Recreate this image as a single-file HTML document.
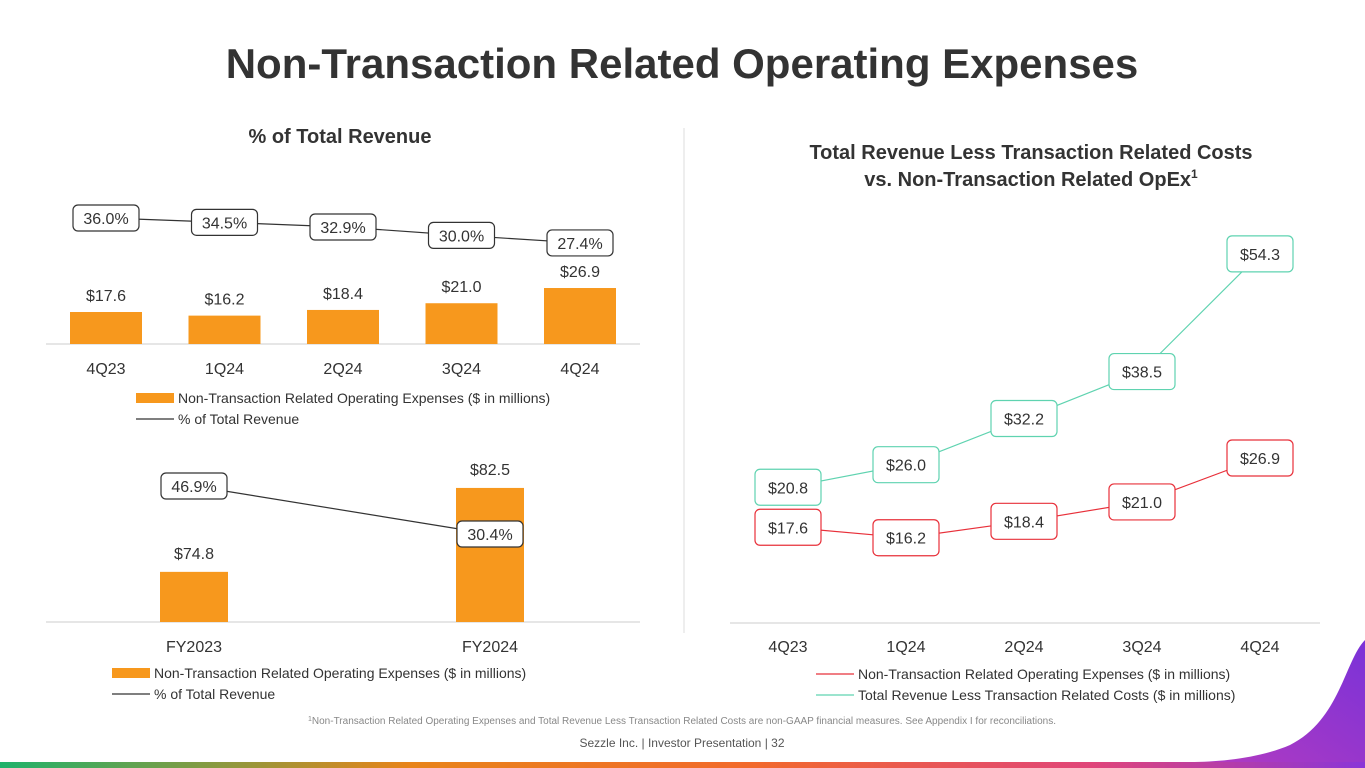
<!DOCTYPE html>
<html><head><meta charset="utf-8">
<style>
html,body{margin:0;padding:0;background:#fff;}
body{width:1365px;height:768px;position:relative;overflow:hidden;font-family:"Liberation Sans",sans-serif;color:#333;}
svg{position:absolute;left:0;top:0;}
</style></head>
<body>
<svg id="s" width="1365" height="768" viewBox="0 0 1365 768">
<defs>
<linearGradient id="bg" x1="0" x2="1" y1="0" y2="0">
<stop offset="0" stop-color="#1fb26b"/><stop offset="0.3" stop-color="#e8841a"/><stop offset="0.55" stop-color="#f26a2c"/><stop offset="0.8" stop-color="#e0457a"/><stop offset="1" stop-color="#8a35d8"/>
</linearGradient>
<linearGradient id="pg" x1="0" x2="1" y1="1" y2="0">
<stop offset="0" stop-color="#b43bc0"/><stop offset="1" stop-color="#7a32d8"/>
</linearGradient>
</defs>
<rect x="0" y="762" width="1365" height="6" fill="url(#bg)"/>
<path d="M1365 640 C1345 660 1340 720 1290 745 C1260 758 1220 762 1190 762 L1365 762 Z" fill="url(#pg)"/>
<text x="682" y="78" text-anchor="middle" font-size="42" font-weight="bold" fill="#333">Non-Transaction Related Operating Expenses</text>
<line x1="684" y1="128" x2="684" y2="633" stroke="#ddd" stroke-width="1"/>
<text x="340" y="143" text-anchor="middle" font-size="20" font-weight="bold" fill="#333">% of Total Revenue</text>
<text x="1031" y="159" text-anchor="middle" font-size="20" font-weight="bold" fill="#333">Total Revenue Less Transaction Related Costs</text>
<text x="1031" y="186" text-anchor="middle" font-size="20" font-weight="bold" fill="#333">vs. Non-Transaction Related OpEx<tspan font-size="12" dy="-8">1</tspan></text>
<text x="682" y="724" text-anchor="middle" font-size="10" fill="#888"><tspan font-size="7" dy="-3">1</tspan><tspan dy="3">Non-Transaction Related Operating Expenses and Total Revenue Less Transaction Related Costs are non-GAAP financial measures. See Appendix I for reconciliations.</tspan></text>
<text x="682" y="747" text-anchor="middle" font-size="12" fill="#555">Sezzle Inc. | Investor Presentation | 32</text>
</svg>
<script>
const qCats=["4Q23","1Q24","2Q24","3Q24","4Q24"];
const qOpex=[17.6,16.2,18.4,21.0,26.9];
const qPct=[36.0,34.5,32.9,30.0,27.4];
const fyCats=["FY2023","FY2024"];
const fyOpex=[74.8,82.5];
const fyPct=[46.9,30.4];
const rCats=["4Q23","1Q24","2Q24","3Q24","4Q24"];
const rOpex=[17.6,16.2,18.4,21.0,26.9];
const rRev=[20.8,26.0,32.2,38.5,54.3];

const S=document.getElementById('s');
const NS='http://www.w3.org/2000/svg';
function el(t,a,p){const e=document.createElementNS(NS,t);for(const k in a)e.setAttribute(k,a[k]);(p||S).appendChild(e);return e;}
function txt(x,y,s,size,fill,anchor){const e=el('text',{x:x,y:y,'font-size':size,fill:fill||'#333','text-anchor':anchor||'middle'});e.textContent=s;return e;}
function box(cx,cy,w,h,s,stroke){
  const r=el('rect',{x:cx-w/2,y:cy-h/2,width:w,height:h,rx:5,fill:'#fff',stroke:stroke,'stroke-width':1.2});
  
  
  const t=txt(cx,cy+6,s,16,'#333');
  
  
}

// Top-left chart
(function(){
  const x0=106,dx=118.5,base=344;
  const xs=i=>x0+i*dx, yb=v=>base-(v-5.2)*2.58, yp=v=>218+(36-v)*2.9;
  el('line',{x1:46,y1:base,x2:640,y2:base,stroke:'#ddd','stroke-width':1.5});
  qOpex.forEach((v,i)=>{
    const r=el('rect',{x:xs(i)-36,y:yb(v),width:72,height:base-yb(v),fill:'#f7981d'});
    
    
    const t=txt(xs(i),yb(v)-11,'$'+v.toFixed(1),16);
    
    
    const c=txt(xs(i),374,qCats[i],16);
    
    
  });
  const pl=el('polyline',{points:qPct.map((v,i)=>xs(i)+','+yp(v)).join(' '),fill:'none',stroke:'#333','stroke-width':1.2});
  
  
  qPct.forEach((v,i)=>box(xs(i),yp(v),66,26,v.toFixed(1)+'%','#333'));
  el('rect',{x:136,y:393,width:38,height:10,fill:'#f7981d'});
  const l1=txt(178,403,'Non-Transaction Related Operating Expenses ($ in millions)',14,'#333','start');
  
  
  el('line',{x1:136,y1:419,x2:174,y2:419,stroke:'#333','stroke-width':1.2});
  const l2=txt(178,424,'% of Total Revenue',14,'#333','start');
  
  
})();

// Bottom-left chart
(function(){
  const x0=194,dx=296,base=622;
  const xs=i=>x0+i*dx, yb=v=>base-(v-70.2)*10.9, yp=v=>486+(46.9-v)*2.91;
  el('line',{x1:46,y1:base,x2:640,y2:base,stroke:'#ddd','stroke-width':1.5});
  fyOpex.forEach((v,i)=>{
    const r=el('rect',{x:xs(i)-34,y:yb(v),width:68,height:base-yb(v),fill:'#f7981d'});
    
    
    const t=txt(xs(i),yb(v)-13,'$'+v.toFixed(1),16);
    
    
    const c=txt(xs(i),652,fyCats[i],16);
    
    
  });
  const pl=el('polyline',{points:fyPct.map((v,i)=>xs(i)+','+yp(v)).join(' '),fill:'none',stroke:'#333','stroke-width':1.2});
  
  
  fyPct.forEach((v,i)=>box(xs(i),yp(v),66,26,v.toFixed(1)+'%','#333'));
  el('rect',{x:112,y:668,width:38,height:10,fill:'#f7981d'});
  const l1=txt(154,678,'Non-Transaction Related Operating Expenses ($ in millions)',14,'#333','start');
  
  
  el('line',{x1:112,y1:694,x2:150,y2:694,stroke:'#333','stroke-width':1.2});
  const l2=txt(154,699,'% of Total Revenue',14,'#333','start');
  
  
})();

// Right chart
(function(){
  const x0=788,dx=118,base=623;
  const xs=i=>x0+i*dx, y=v=>458+(26.9-v)*7.45;
  el('line',{x1:730,y1:base,x2:1320,y2:base,stroke:'#ddd','stroke-width':1.5});
  rCats.forEach((c,i)=>{
    const t=txt(xs(i),652,c,16);
    
    
  });
  // resolve label overlap: push revenue box up when too close to opex box
  const gy=rRev.map(v=>y(v)), ry=rOpex.map(v=>y(v));
  gy.forEach((g,i)=>{const gap=ry[i]-g; if(gap<40){gy[i]-=(40-gap);}});
  const g=el('polyline',{points:gy.map((v,i)=>xs(i)+','+v).join(' '),fill:'none',stroke:'#5fd3b0','stroke-width':1.2});
  
  
  const r=el('polyline',{points:ry.map((v,i)=>xs(i)+','+v).join(' '),fill:'none',stroke:'#e8303a','stroke-width':1.2});
  
  
  rRev.forEach((v,i)=>box(xs(i),gy[i],66,36,'$'+v.toFixed(1),'#5fd3b0'));
  rOpex.forEach((v,i)=>box(xs(i),ry[i],66,36,'$'+v.toFixed(1),'#e8303a'));
  el('line',{x1:816,y1:674,x2:854,y2:674,stroke:'#e8303a','stroke-width':1.2});
  const l1=txt(858,679,'Non-Transaction Related Operating Expenses ($ in millions)',14,'#333','start');
  
  
  el('line',{x1:816,y1:695,x2:854,y2:695,stroke:'#5fd3b0','stroke-width':1.2});
  const l2=txt(858,700,'Total Revenue Less Transaction Related Costs ($ in millions)',14,'#333','start');
  
  
})();
</script>
</body></html>
